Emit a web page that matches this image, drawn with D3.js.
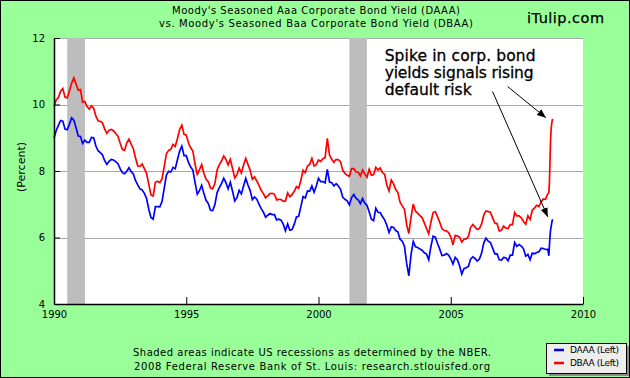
<!DOCTYPE html>
<html><head><meta charset="utf-8">
<script src="https://cdn.jsdelivr.net/npm/d3@7"></script>
<style>html,body{margin:0;padding:0;background:#99ff99;overflow:hidden}</style>
</head><body><svg id="c" width="630" height="378"></svg>
<script>
const startYear = 1990;
// Monthly Moody's Aaa yields, Jan 1990 - Sep 2008
const daaa = [
8.99,9.22,9.37,9.52,9.50,9.26,9.24,9.41,9.60,9.53,9.30,9.05,
9.04,8.83,8.93,8.86,8.86,9.01,9.00,8.75,8.61,8.55,8.48,8.31,
8.20,8.29,8.35,8.33,8.28,8.22,8.07,7.95,7.92,7.99,8.10,7.98,
7.91,7.71,7.58,7.46,7.43,7.33,7.17,6.85,6.60,6.55,6.93,6.93,
6.92,7.08,7.48,7.88,7.99,7.97,8.11,8.07,8.34,8.60,8.75,8.46,
8.46,8.26,8.12,8.03,7.65,7.30,7.41,7.57,7.32,7.12,7.02,6.82,
6.81,6.99,7.35,7.50,7.62,7.78,7.65,7.46,7.66,7.39,7.10,7.20,
7.42,7.31,7.55,7.78,7.58,7.41,7.14,7.22,7.15,7.00,6.87,6.76,
6.61,6.67,6.72,6.69,6.69,6.53,6.55,6.52,6.40,6.20,6.41,6.22,
6.24,6.40,6.62,6.64,6.93,7.23,7.19,7.40,7.39,7.55,7.36,7.55,
7.78,7.68,7.68,7.64,8.05,7.67,7.65,7.55,7.62,7.55,7.45,7.21,
7.15,7.10,6.98,7.20,7.29,7.18,7.13,7.02,7.17,7.03,6.97,6.77,
6.55,6.51,6.88,6.76,6.75,6.63,6.53,6.37,6.15,6.32,6.31,6.21,
6.17,5.95,5.89,5.74,5.22,4.85,5.49,5.88,5.72,5.70,5.65,5.62,
5.54,5.50,5.33,5.73,6.04,6.01,5.82,5.65,5.46,5.47,5.52,5.47,
5.36,5.20,5.40,5.33,5.15,4.90,5.06,5.09,5.13,5.35,5.42,5.37,
5.29,5.35,5.53,5.84,5.98,5.89,5.85,5.68,5.51,5.51,5.33,5.32,
5.40,5.39,5.30,5.47,5.47,5.85,5.73,5.79,5.74,5.66,5.44,5.49,
5.33,5.53,5.51,5.55,5.57,5.68,5.67,5.64,5.65
];
// Monthly Moody's Baa yields, Jan 1990 - Sep 2008
const dbaa = [
9.94,10.14,10.21,10.40,10.48,10.22,10.20,10.41,10.64,10.80,10.62,10.43,
10.45,10.07,10.09,9.94,9.86,9.96,9.89,9.65,9.51,9.49,9.45,9.26,
9.13,9.23,9.25,9.21,9.13,9.05,8.84,8.65,8.62,8.84,8.96,8.81,
8.67,8.39,8.15,8.14,8.21,8.07,7.93,7.60,7.28,7.25,7.66,7.69,
7.65,7.76,8.13,8.52,8.62,8.65,8.80,8.74,8.98,9.25,9.38,9.10,
9.08,8.85,8.70,8.60,8.20,7.90,8.04,8.19,7.93,7.75,7.68,7.49,
7.47,7.63,8.03,8.19,8.30,8.45,8.35,8.18,8.35,8.07,7.79,7.89,
8.09,7.94,8.18,8.38,8.20,8.02,7.75,7.82,7.70,7.57,7.42,7.32,
7.19,7.25,7.32,7.33,7.30,7.13,7.15,7.14,7.09,7.10,7.34,7.23,
7.29,7.39,7.53,7.48,7.72,8.02,7.95,8.15,8.20,8.38,8.15,8.19,
8.33,8.29,8.37,8.40,8.98,8.48,8.35,8.26,8.35,8.34,8.28,8.02,
7.93,7.87,7.84,8.07,8.07,7.97,7.97,7.85,8.03,7.91,7.81,8.05,
7.87,7.89,8.11,8.03,8.09,7.95,7.90,7.58,7.40,7.73,7.62,7.45,
7.35,7.06,6.95,6.85,6.38,6.12,6.62,7.01,6.79,6.73,6.66,6.60,
6.44,6.27,6.11,6.46,6.75,6.78,6.62,6.46,6.27,6.21,6.20,6.15,
6.02,5.78,6.06,6.05,6.01,5.86,5.95,5.96,6.03,6.30,6.39,6.32,
6.24,6.27,6.41,6.68,6.80,6.78,6.76,6.59,6.43,6.42,6.20,6.22,
6.34,6.28,6.27,6.39,6.39,6.75,6.65,6.65,6.59,6.48,6.40,6.65,
6.54,6.82,6.89,6.97,6.93,7.07,7.16,7.15,7.31
];
// Late 2008 spike (finer readings)
const tailDates = [2008.71, 2008.73, 2008.75, 2008.77, 2008.79, 2008.82, 2008.85];
const tailDaaa = [5.45, 5.75, 6.00, 6.20, 6.30, 6.45, 6.55];
const tailDbaa = [7.35, 7.65, 8.20, 8.85, 9.20, 9.45, 9.57];
const recessions = [[1990.5, 1991.17], [2001.17, 2001.83]];
const yTicks = [4, 6, 8, 10, 12];
const xTicks = [1990, 1995, 2000, 2005, 2010];
const legendLabels = ["DAAA (Left)", "DBAA (Left)"];
const titleLines = ["Moody's Seasoned Aaa Corporate Bond Yield (DAAA)", "vs.  Moody's Seasoned Baa Corporate Bond Yield (DBAA)"];
const footLines = ["Shaded areas indicate US recessions as determined by the NBER.", "2008 Federal Reserve Bank of St. Louis: research.stlouisfed.org"];
const noteLines = ["Spike in corp. bond", "yields signals rising", "default risk"];

const W = 630, H = 378;
const L = 54, R = 583, T = 38, B = 304;
const svg = d3.select("#c");
const x = d3.scaleLinear().domain([1990, 2010]).range([L, R]);
const y = d3.scaleLinear().domain([4, 12]).range([B, T]);
const font = "'DejaVu Sans', Verdana, sans-serif";

function build(vals, tailV) {
  const s = vals.map((v, i) => ({t: startYear + i / 12, v}));
  tailDates.forEach((t, i) => s.push({t, v: tailV[i]}));
  return s;
}
const sA = build(daaa, tailDaaa), sB = build(dbaa, tailDbaa);

svg.append("rect").attr("x", 0.5).attr("y", 0.5).attr("width", W - 1).attr("height", H - 1)
  .attr("fill", "#99ff99").attr("stroke", "#000");
svg.append("rect").attr("x", L).attr("y", T).attr("width", R - L).attr("height", B - T).attr("fill", "#fff");

// gridlines
svg.append("g").selectAll("line").data(yTicks.filter(d => d > 4)).join("line")
  .attr("x1", L).attr("x2", R).attr("y1", d => Math.round(y(d)) + 0.5).attr("y2", d => Math.round(y(d)) + 0.5)
  .attr("stroke", "#a8a8a8").attr("stroke-width", 1);

// recessions
svg.append("g").selectAll("rect").data(recessions).join("rect")
  .attr("x", d => x(d[0])).attr("width", d => x(d[1]) - x(d[0]))
  .attr("y", T).attr("height", B - T).attr("fill", "#bdbdbd");

const line = d3.line().x(d => x(d.t)).y(d => y(d.v));
svg.append("path").datum(sA).attr("d", line).attr("fill", "none").attr("stroke", "#0000ff").attr("stroke-width", 1.7);
svg.append("path").datum(sB).attr("d", line).attr("fill", "none").attr("stroke", "#ff0000").attr("stroke-width", 1.7);

// axes
const ya = svg.append("g").attr("transform", `translate(${L},0)`)
  .call(d3.axisLeft(y).tickValues(yTicks).tickSizeInner(-6).tickSizeOuter(0).tickPadding(9));
const xa = svg.append("g").attr("transform", `translate(0,${B})`)
  .call(d3.axisBottom(x).tickValues(xTicks).tickFormat(d3.format("d")).tickSizeInner(-7).tickSizeOuter(0).tickPadding(7));
[ya, xa].forEach(g => {
  g.select(".domain").attr("stroke", "#000").attr("stroke-width", 1.5);
  g.selectAll(".tick line").attr("stroke", "#000");
  g.selectAll("text").attr("font-family", font).attr("font-size", 10).attr("fill", "#000");
});

// y label
svg.append("text").attr("transform", `translate(25,${(T + B) / 2 - 4}) rotate(-90)`)
  .attr("text-anchor", "middle").attr("font-family", font).attr("font-size", 11).text("(Percent)");

// title
const titleLen = [288, 314];
svg.append("g").selectAll("text").data(titleLines).join("text")
  .attr("x", 316).attr("y", (d, i) => 14 + i * 13).attr("text-anchor", "middle")
  .attr("textLength", (d, i) => titleLen[i]).attr("lengthAdjust", "spacing")
  .attr("font-family", font).attr("font-size", 10).text(d => d);
svg.append("text").attr("x", 565.5).attr("y", 22.5).attr("text-anchor", "middle")
  .attr("textLength", 77).attr("lengthAdjust", "spacing")
  .attr("font-family", font).attr("font-size", 14.5).attr("stroke", "#000").attr("stroke-width", 0.25).text("iTulip.com");

// footer
const footLen = [358, 356];
svg.append("g").selectAll("text").data(footLines).join("text")
  .attr("x", 312).attr("y", (d, i) => 356 + i * 14).attr("text-anchor", "middle")
  .attr("textLength", (d, i) => footLen[i]).attr("lengthAdjust", "spacing")
  .attr("font-family", font).attr("font-size", 10).text(d => d);

// legend
const lg = svg.append("g").attr("transform", "translate(546,343)");
lg.append("rect").attr("x", 3).attr("y", 3).attr("width", 80).attr("height", 30).attr("fill", "#8a8a8a");
lg.append("rect").attr("x", 0.5).attr("y", 0.5).attr("width", 80).attr("height", 30).attr("fill", "#eeeeee").attr("stroke", "#000");
const cols = ["#0000ff", "#ff0000"];
legendLabels.forEach((t, i) => {
  lg.append("line").attr("x1", 8).attr("x2", 18).attr("y1", 7 + i * 13).attr("y2", 7 + i * 13)
    .attr("stroke", cols[i]).attr("stroke-width", 2.5);
  lg.append("text").attr("x", 24).attr("y", 10 + i * 13).attr("font-family", font).attr("font-size", 9)
    .attr("textLength", 49).attr("lengthAdjust", "spacing").text(t);
});

// annotation
const noteLen = [151, 149, 87];
svg.append("g").selectAll("text").data(noteLines).join("text")
  .attr("x", x(2002.5)).attr("y", (d, i) => 61 + i * 17).attr("font-family", font).attr("font-size", 15.5)
  .attr("textLength", (d, i) => noteLen[i]).attr("lengthAdjust", "spacing")
  .attr("stroke", "#000").attr("stroke-width", 0.3).text(d => d);
svg.append("defs").append("marker").attr("id", "ah").attr("viewBox", "0 0 10 10").attr("refX", 10).attr("refY", 5)
  .attr("markerWidth", 9).attr("markerHeight", 9).attr("markerUnits", "userSpaceOnUse").attr("orient", "auto")
  .append("path").attr("d", "M0,1 L10,5 L0,9 Z").attr("fill", "#000");
const arrows = [
  {x0: 2007.15, y0: 10.54, x1: 2008.6, y1: 9.6},
  {x0: 2006.58, y0: 10.39, x1: 2008.67, y1: 6.62}
];
svg.append("g").selectAll("line").data(arrows).join("line")
  .attr("x1", d => x(d.x0)).attr("y1", d => y(d.y0)).attr("x2", d => x(d.x1)).attr("y2", d => y(d.y1))
  .attr("stroke", "#000").attr("stroke-width", 1).attr("marker-end", "url(#ah)");
</script></body></html>
